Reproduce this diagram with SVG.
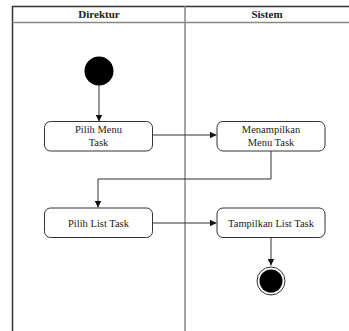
<svg xmlns="http://www.w3.org/2000/svg" width="349" height="331" viewBox="0 0 349 331">
  <style>
    .lane { fill: none; stroke: #333; stroke-width: 1.5; }
    .sep { stroke: #888; stroke-width: 1.5; }
    .head { font-family: "Liberation Serif", serif; font-size: 11px; font-weight: bold; fill: #222; text-anchor: middle; }
    .act rect { fill: #fff; stroke: #333; stroke-width: 1; }
    .act text { font-family: "Liberation Serif", serif; font-size: 10.5px; fill: #222; text-anchor: middle; }
    .edge { fill: none; stroke: #333; stroke-width: 1; marker-end: url(#arrow); }
  </style>
  <defs>
    <marker id="arrow" viewBox="0 0 10 10" refX="10" refY="5" markerWidth="7" markerHeight="7" markerUnits="userSpaceOnUse" orient="auto">
      <path d="M0,0 L10,5 L0,10 z" fill="#111"/>
    </marker>
  </defs>
  <rect width="349" height="331" fill="#fff"/>

  <!-- swimlane frame -->
  <g id="lanes">
    <path class="lane" d="M12.5,335 V6.5 H352"/>
    <line class="sep" x1="12.5" y1="22.5" x2="349" y2="22.5"/>
    <line class="sep" x1="185" y1="6" x2="185" y2="331"/>
    <text class="head" x="99" y="18">Direktur</text>
    <text class="head" x="267" y="18">Sistem</text>
  </g>

  <!-- connectors -->
  <g id="connectors">
    <line class="edge" x1="99" y1="85" x2="99" y2="121.5"/>
    <line class="edge" x1="153" y1="135" x2="216.5" y2="135"/>
    <polyline class="edge" points="271,151 271,179 98,179 98,207.5"/>
    <line class="edge" x1="153" y1="223" x2="216.5" y2="223"/>
    <line class="edge" x1="271" y1="238" x2="271" y2="265.5"/>
  </g>

  <g id="start">
    <circle cx="99" cy="71" r="14.5" fill="#000"/>
  </g>

  <g id="pilih-menu-task" class="act">
    <rect x="44.5" y="121.5" width="108" height="29.5" rx="6"/>
    <text x="98.5" y="133">Pilih Menu</text>
    <text x="98.5" y="146">Task</text>
  </g>

  <g id="menampilkan-menu-task" class="act">
    <rect x="217" y="121.5" width="108" height="29.5" rx="6"/>
    <text x="271" y="133">Menampilkan</text>
    <text x="271" y="146">Menu Task</text>
  </g>

  <g id="pilih-list-task" class="act">
    <rect x="44.5" y="208" width="108" height="29.5" rx="6"/>
    <text x="98.5" y="226.5">Pilih List Task</text>
  </g>

  <g id="tampilkan-list-task" class="act">
    <rect x="217" y="208" width="108" height="29.5" rx="6"/>
    <text x="271" y="226.5">Tampilkan List Task</text>
  </g>

  <g id="end">
    <circle cx="271" cy="281" r="14" fill="#fff" stroke="#333" stroke-width="1"/>
    <circle cx="271" cy="281" r="11.5" fill="#000"/>
  </g>
</svg>
